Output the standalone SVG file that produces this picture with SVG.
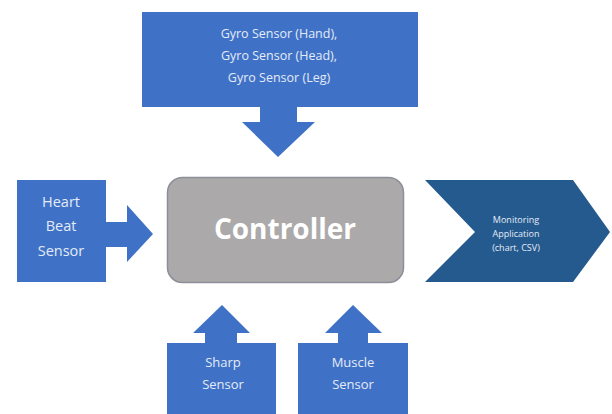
<svg xmlns="http://www.w3.org/2000/svg" width="612" height="414" viewBox="0 0 612 414">
<style>
.blue{fill:#3f72c6;}
.arrow{fill:#3f72c6;}
.lbl{font-family:"Open Sans","Liberation Sans",sans-serif;fill:#e4ebf7;text-anchor:middle;}
</style>
<rect width="612" height="414" fill="#ffffff"/>
<g id="connectors">
<polygon class="arrow" points="260,107 297,107 297,122 315,122 278,157 242,122 260,122"/>
<polygon class="arrow" points="106,222 127,222 127,205 153,234 127,262 127,247 106,247"/>
<polygon class="arrow" points="205,343 205,333 193,333 222,305 250,333 237,333 237,343"/>
<polygon class="arrow" points="338,343 338,333 325,333 353,305 382,333 368,333 368,343"/>
</g>
<g id="gyro">
<rect class="blue" x="142" y="12" width="276" height="95"/>
<text class="lbl" font-size="12.5"><tspan x="279" y="38">Gyro Sensor (Hand),</tspan><tspan x="279" y="60">Gyro Sensor (Head),</tspan><tspan x="279" y="82">Gyro Sensor (Leg)</tspan></text>
</g>
<g id="heart">
<rect class="blue" x="17" y="180" width="89" height="102"/>
<text class="lbl" font-size="14.5"><tspan x="61" y="207">Heart</tspan><tspan x="61" y="231">Beat</tspan><tspan x="61" y="256">Sensor</tspan></text>
</g>
<g id="controller">
<rect x="167.5" y="177.5" width="236" height="105" rx="15" fill="#aba9a9" stroke="#8c8f99" stroke-width="1.5"/>
<text x="285" y="239" font-family="'Open Sans','Liberation Sans',sans-serif" font-size="28" font-weight="bold" fill="#ffffff" text-anchor="middle">Controller</text>
</g>
<g id="monitoring">
<polygon points="425,180 573,180 610,232 573,282 425,282 475,232" fill="#245a8e"/>
<text class="lbl" font-size="9" fill="#c9d6e8"><tspan x="516" y="223">Monitoring</tspan><tspan x="516" y="237">Application</tspan><tspan x="516" y="251">(chart, CSV)</tspan></text>
</g>
<g id="sharp">
<rect class="blue" x="167" y="343" width="109" height="71"/>
<text class="lbl" font-size="13"><tspan x="223" y="367">Sharp</tspan><tspan x="223" y="389">Sensor</tspan></text>
</g>
<g id="muscle">
<rect class="blue" x="298" y="343" width="110" height="71"/>
<text class="lbl" font-size="13"><tspan x="353" y="367">Muscle</tspan><tspan x="353" y="389">Sensor</tspan></text>
</g>
</svg>
